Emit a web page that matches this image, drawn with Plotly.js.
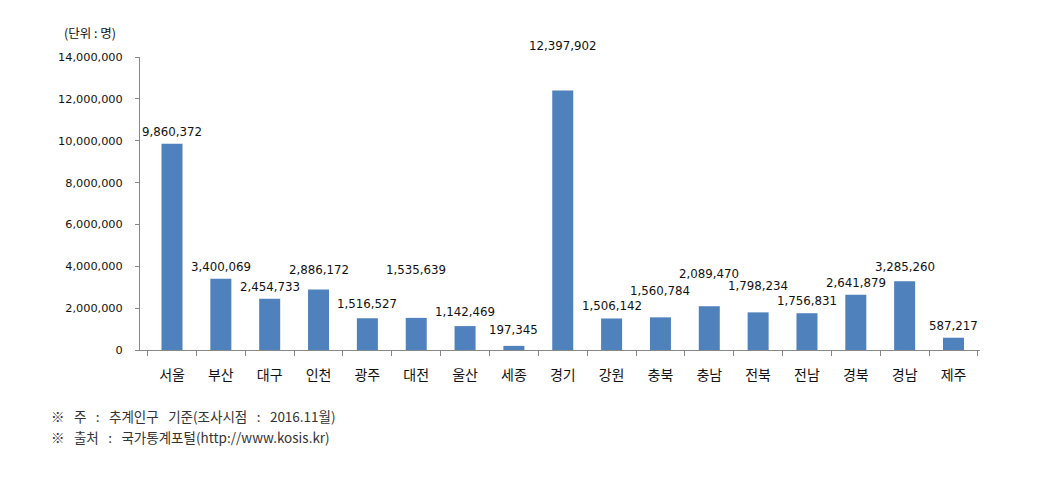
<!DOCTYPE html>
<html><head><meta charset="utf-8">
<script src="https://cdn.plot.ly/plotly-3.0.1.min.js"></script>
<style>body{margin:0;background:#fff}#c{width:1059px;height:481px}</style>
</head><body><div id="c"></div>
<script>
const regions = ['서울','부산','대구','인천','광주','대전','울산','세종','경기','강원','충북','충남','전북','전남','경북','경남','제주'];
const population = [9860372,3400069,2454733,2886172,1516527,1535639,1142469,197345,12397902,1506142,1560784,2089470,1798234,1756831,2641879,3285260,587217];
// extra pixel lift of each value label above its bar (layout only)
const labelLift = [0,0,0,8,2,36,2,4,33,0,14,20,14,0,0,2,0];
const notes = ['※  주  :  추계인구  기준(조사시점  :  2016.11월)', '※  출처  :  국가통계포털(http://www.kosis.kr)'];

const numFont = '"DejaVu Sans", Verdana, sans-serif';
const korFont = '"Noto Sans CJK KR", Gulim, sans-serif';
const fmt = v => v.toLocaleString('en-US');
const wide = s => s.replace(/  /g, '\u2002\u2009');

const annotations = regions.map((r,i)=>({
  x: r, y: population[i], xref:'x', yref:'y', text: fmt(population[i]),
  showarrow:false, yanchor:'bottom', yshift: 3 + labelLift[i],
  font:{family:numFont, size:11.8, color:'#111'}
}));
annotations.push({xref:'paper', yref:'paper', x:-0.093, y:1.0, xanchor:'left', yanchor:'bottom', yshift:13,
  text:'(단위 : 명)', showarrow:false, font:{family:korFont,size:12.5,color:'#111'}});
notes.forEach((t,k)=>annotations.push({xref:'paper', yref:'paper', x:-0.108, y:-0.185, yshift:-21*k,
  xanchor:'left', yanchor:'top', text: wide(t), showarrow:false, font:{family:korFont,size:13.5,color:'#333'}}));

Plotly.newPlot('c', [{
  type:'bar', x: regions, y: population,
  marker:{color:'#4F81BD'}, hoverinfo:'x+y'
}], {
  width:1059, height:481,
  margin:{l:140, r:79, t:57, b:131},
  paper_bgcolor:'#fff', plot_bgcolor:'#fff',
  bargap:0.57, showlegend:false,
  xaxis:{showline:true, linecolor:'#888', linewidth:1, ticks:'outside', tickson:'boundaries',
    ticklen:5, tickcolor:'#888', showgrid:false, ticklabelstandoff:12,
    tickfont:{family:korFont,size:14,color:'#111'}},
  yaxis:{range:[0,14000000], dtick:2000000, tickformat:',d', showline:true, linecolor:'#888', linewidth:1,
    ticks:'outside', ticklen:4, tickcolor:'#888', showgrid:false, zeroline:false, ticklabelstandoff:10,
    tickfont:{family:numFont,size:11.3,color:'#111'}},
  annotations: annotations
}, {displayModeBar:false, staticPlot:true});
</script></body></html>
